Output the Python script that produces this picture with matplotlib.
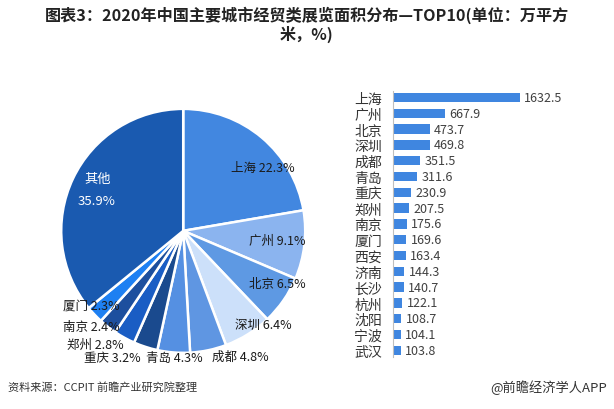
import numpy as np
import matplotlib.pyplot as plt

plt.rcParams['font.family'] = ['Noto Sans CJK SC', 'DejaVu Sans']

# pie data (share of top cities, %)
pie_names = ['上海', '广州', '北京', '深圳', '成都', '青岛', '重庆', '郑州', '南京', '厦门', '其他']
pie_vals = [22.3, 9.1, 6.5, 6.4, 4.8, 4.3, 3.2, 2.8, 2.4, 2.3, 35.9]
pie_colors = ['#4287E0', '#8BB4EF', '#5E99E3', '#CCE0FA', '#5F96E2', '#5590E2',
              '#1A4A8E', '#1A5DC4', '#1D4F9E', '#1E80F2', '#1A5AB0']
# label positions relative to pie centre (radius = 1)
label_pos = [(0.65, 0.52), (0.77, -0.08), (0.77, -0.43), (0.66, -0.77), (0.47, -1.03),
             (-0.07, -1.04), (-0.58, -1.04), (-0.72, -0.93), (-0.75, -0.78), (-0.75, -0.61)]

# bar data (万平方米)
bar_names = ['上海', '广州', '北京', '深圳', '成都', '青岛', '重庆', '郑州', '南京',
             '厦门', '西安', '济南', '长沙', '杭州', '沈阳', '宁波', '武汉']
bar_vals = [1632.5, 667.9, 473.7, 469.8, 351.5, 311.6, 230.9, 207.5, 175.6,
            169.6, 163.4, 144.3, 140.7, 122.1, 108.7, 104.1, 103.8]

fig = plt.figure(figsize=(6.14, 4.10), dpi=100)

fig.text(0.5, 0.962, '图表3：2020年中国主要城市经贸类展览面积分布—TOP10(单位：万平方',
         ha='center', va='center', fontsize=11.6, fontweight='bold', color='#222222')
fig.text(0.5, 0.915, '米，%)', ha='center', va='center', fontsize=11.6,
         fontweight='bold', color='#222222')

# pie
ax = fig.add_axes([0.0997, 0.137, 0.3974, 0.595])
ax.pie(pie_vals, colors=pie_colors, startangle=90, counterclock=False, radius=1,
       wedgeprops=dict(edgecolor='white', linewidth=1.8))
ax.set_xlim(-1, 1)
ax.set_ylim(-1, 1)
ax.set_aspect('auto')
ax.axis('off')
for i in range(10):
    x, y = label_pos[i]
    ax.text(x, y, f'{pie_names[i]} {pie_vals[i]}%', ha='center', va='center',
            fontsize=9, color='#1a1a1a', clip_on=False)
ax.text(-0.70, 0.43, pie_names[10], ha='center', va='center', fontsize=9.5, color='white')
ax.text(-0.71, 0.25, f'{pie_vals[10]}%', ha='center', va='center', fontsize=9.5, color='white')

# bars
bx = fig.add_axes([0.640, 0.127, 0.2534, 0.649])
ypos = np.arange(len(bar_names))
bx.barh(ypos, bar_vals, height=0.59, color='#3F86E0')
bx.set_xlim(0, 2000)
bx.set_ylim(16.42, -0.42)
for s in ['top', 'right', 'bottom']:
    bx.spines[s].set_visible(False)
bx.spines['left'].set_color('#BFBFBF')
bx.set_xticks([])
bx.set_yticks(ypos)
bx.set_yticklabels(bar_names, fontsize=10, color='#333333')
bx.tick_params(axis='y', length=0, pad=8)
for i, v in enumerate(bar_vals):
    bx.text(v + 55, i, f'{v}', va='center', ha='left', fontsize=9, color='#404040')

fig.text(0.013, 0.054, '资料来源：CCPIT 前瞻产业研究院整理', ha='left', va='center',
         fontsize=8, color='#333333')
fig.text(0.988, 0.054, '@前瞻经济学人APP', ha='right', va='center',
         fontsize=9.5, color='#333333')

fig.savefig('out.png', dpi=100)
